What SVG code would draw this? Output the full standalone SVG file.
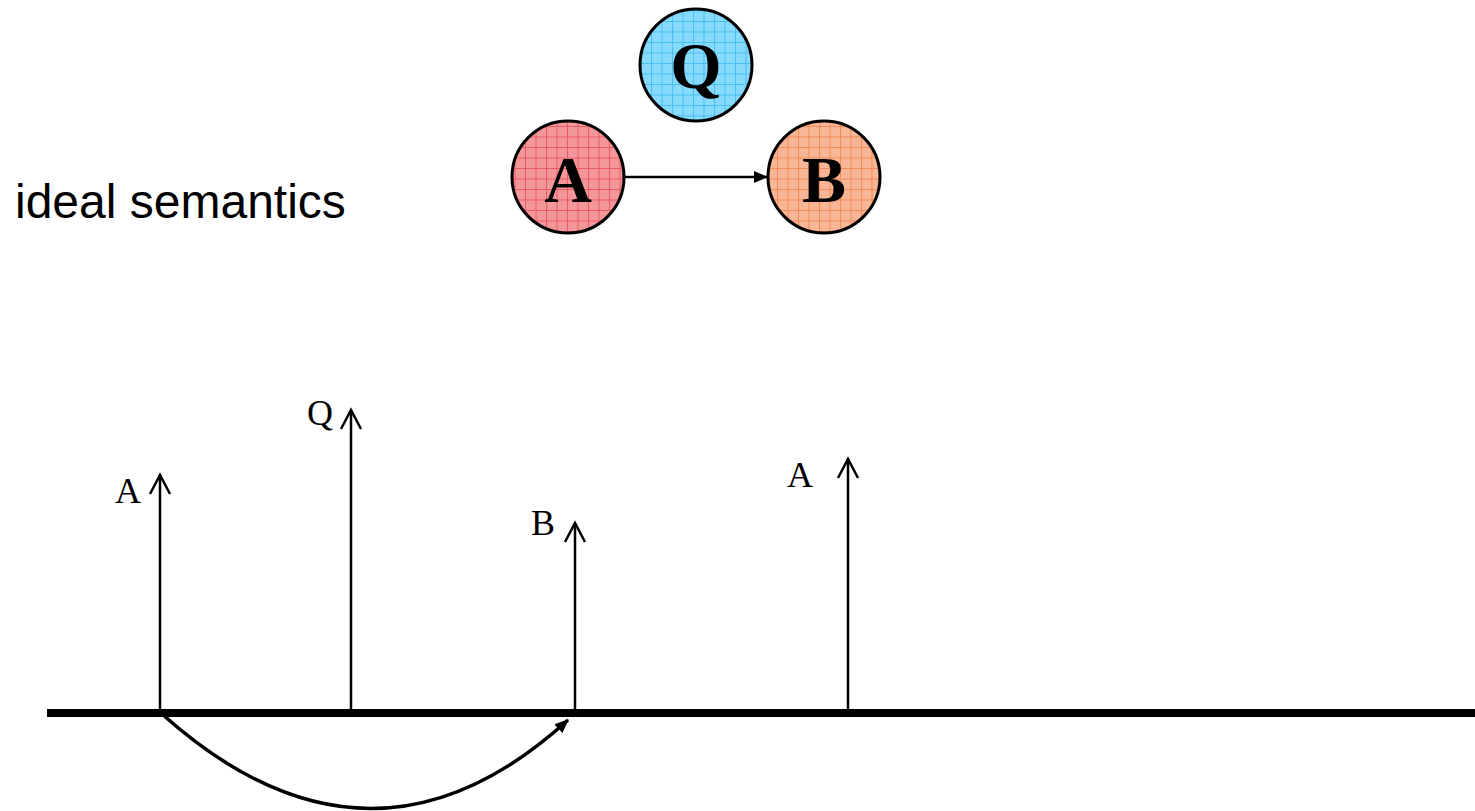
<svg xmlns="http://www.w3.org/2000/svg" width="1475" height="811" viewBox="0 0 1475 811">
<style>
.node{stroke:#000;stroke-width:3}
.nl{font-family:"Liberation Serif",serif;font-weight:bold;font-size:66px;text-anchor:middle}
.tl{font-family:"Liberation Serif",serif;font-size:36px}
.conn{fill:none;stroke:#000;stroke-width:2.5}
</style>
<defs>
<pattern id="pa" width="10.5" height="10.5" patternUnits="userSpaceOnUse"><rect width="10.5" height="10.5" fill="#f4979b"/><path d="M0 0.5H10.5M0.5 0V10.5" stroke="#e8404c" stroke-width="1" stroke-opacity="0.7"/></pattern>
<pattern id="pq" width="10.5" height="10.5" patternUnits="userSpaceOnUse"><rect width="10.5" height="10.5" fill="#88dafd"/><path d="M0 0.5H10.5M0.5 0V10.5" stroke="#28b4f0" stroke-width="1" stroke-opacity="0.7"/></pattern>
<pattern id="pb" width="10.5" height="10.5" patternUnits="userSpaceOnUse"><rect width="10.5" height="10.5" fill="#f9b696"/><path d="M0 0.5H10.5M0.5 0V10.5" stroke="#f27a3c" stroke-width="1" stroke-opacity="0.7"/></pattern>
<marker id="fill" markerWidth="14" markerHeight="12" refX="13" refY="6" orient="auto" markerUnits="userSpaceOnUse"><path d="M0 0L14 6L0 12Z" fill="#000"/></marker>
</defs>
<text x="15" y="218" font-family="Liberation Sans,Arial,sans-serif" font-size="48">ideal semantics</text>
<g id="node-Q"><circle class="node" cx="696" cy="65" r="56" fill="url(#pq)"/><text class="nl" x="696" y="88">Q</text></g>
<g id="node-A"><circle class="node" cx="568" cy="177" r="56" fill="url(#pa)"/><text class="nl" x="568" y="202">A</text></g>
<g id="node-B"><circle class="node" cx="824" cy="177" r="56" fill="url(#pb)"/><text class="nl" x="824" y="202">B</text></g>
<g id="connectors">
<line x1="624" y1="177" x2="767" y2="177" stroke="#000" stroke-width="2.5" marker-end="url(#fill)"/>
<line x1="47" y1="713" x2="1475" y2="713" stroke="#000" stroke-width="8"/>
<path class="conn" d="M160 713V475"/>
<path d="M150 494L160 475L170 494" class="conn"/>
<path class="conn" d="M351 713V410"/>
<path d="M341 429L351 410L361 429" class="conn"/>
<path class="conn" d="M575 713V523"/>
<path d="M565 542L575 523L585 542" class="conn"/>
<path class="conn" d="M848 713V459"/>
<path d="M838 478L848 459L858 478" class="conn"/>
<path d="M162 714Q370 900 568 720" fill="none" stroke="#000" stroke-width="3.5" marker-end="url(#fill)"/>
</g>
<text class="tl" x="115" y="503">A</text>
<text class="tl" x="307" y="425">Q</text>
<text class="tl" x="531" y="535">B</text>
<text class="tl" x="787" y="487">A</text>
</svg>
